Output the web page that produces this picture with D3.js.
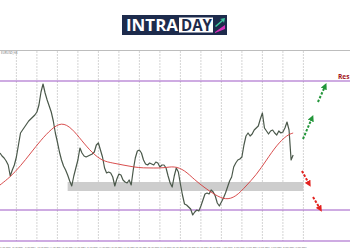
<!DOCTYPE html>
<html>
<head>
<meta charset="utf-8">
<script src="https://cdnjs.cloudflare.com/ajax/libs/d3/7.8.5/d3.min.js"></script>
<style>
  body { margin: 0; background: #fff; }
  svg { display: block; font-family: "Open Sans", "DejaVu Sans", sans-serif; }
</style>
</head>
<body>
<div id="chart"></div>
<script>
// H4 closes, one per bar
const closes = [
  1.0976, 1.0970, 1.0966, 1.0960, 1.0952, 1.0930, 1.0942, 1.0952, 1.0968, 1.0992,
  1.1016, 1.1022, 1.1028, 1.1034, 1.1040, 1.1044, 1.1048, 1.1052, 1.1058, 1.1072,
  1.1098, 1.1114, 1.1096, 1.1082, 1.1070, 1.1058, 1.1040, 1.1016, 1.0998, 1.0978,
  1.0962, 1.0950, 1.0942, 1.0932, 1.0920, 1.0910, 1.0930, 1.0946, 1.0962, 1.0986,
  1.0976, 1.0970, 1.0968, 1.0970, 1.0972, 1.0974, 1.0978, 1.0992, 1.0996, 1.0982,
  1.0968, 1.0946, 1.0936, 1.0938, 1.0936, 1.0928, 1.0910, 1.0924, 1.0934, 1.0932,
  1.0922, 1.0918, 1.0916, 1.0922, 1.0912, 1.0942, 1.0966, 1.0980, 1.0982, 1.0976,
  1.0962, 1.0954, 1.0952, 1.0956, 1.0954, 1.0952, 1.0958, 1.0956, 1.0948, 1.0952,
  1.0952, 1.0946, 1.0930, 1.0916, 1.0908, 1.0930, 1.0946, 1.0938, 1.0914, 1.0892,
  1.0874, 1.0872, 1.0868, 1.0864, 1.0852, 1.0858, 1.0862, 1.0860, 1.0870, 1.0882,
  1.0894, 1.0896, 1.0894, 1.0902, 1.0898, 1.0890, 1.0876, 1.0870, 1.0878, 1.0886,
  1.0896, 1.0908, 1.0920, 1.0928, 1.0948, 1.0956, 1.0962, 1.0964, 1.0968, 1.0992,
  1.1010, 1.1016, 1.1010, 1.1014, 1.1022, 1.1026, 1.1030, 1.1044, 1.1056, 1.1026,
  1.1020, 1.1014, 1.1020, 1.1022, 1.1016, 1.1012, 1.1020, 1.1016, 1.1018, 1.1026,
  1.1038, 1.1022, 1.0962, 1.0972
];

// moving average, read every 5 bars
const maBars = [0, 5, 10, 15, 20, 25, 30, 35, 40, 45, 50, 55, 60, 65, 70, 75, 80, 85, 90, 95, 100, 105, 110, 115, 120, 125, 130, 135, 140, 143];
const maValues = [
  1.0912, 1.0928, 1.0950, 1.0976, 1.1002, 1.1024, 1.1038, 1.1026, 1.1000, 1.0976,
  1.0960, 1.0956, 1.0952, 1.0948, 1.0946, 1.0946, 1.0946, 1.0950, 1.0942, 1.0922,
  1.0906, 1.0892, 1.0882, 1.0888, 1.0910, 1.0932, 1.0962, 1.0992, 1.1012, 1.1016
];

const symbolLabel = 'EURUSD,H4';
const dayBars = [0, 6, 12, 18, 24, 30, 36, 42, 48, 54, 60, 66, 72, 78, 84, 90, 96, 102, 108, 114, 120, 126, 132, 138, 144];
const dayLabels = [
  '5 Apr 2024', '8 Apr 2024', '9 Apr 2024', '10 Apr 2024', '11 Apr 2024', '12 Apr 2024',
  '15 Apr 2024', '16 Apr 2024', '17 Apr 2024', '18 Apr 2024', '19 Apr 2024', '22 Apr 2024',
  '23 Apr 2024', '24 Apr 2024', '25 Apr 2024', '26 Apr 2024', '29 Apr 2024', '30 Apr 2024',
  '1 May 2024', '2 May 2024', '3 May 2024', '6 May 2024', '7 May 2024', '8 May 2024', '9 May 2024'
];
const gridBars = [8, 18, 28, 38, 48, 58, 68, 78, 88, 98, 108, 118, 128, 138, 148];

// levels
const resistance = 1.1120;
const supports = [1.0862, 1.0800];
const zoneLow = 1.0900, zoneHigh = 1.0918;
const zoneFrom = 33, zoneTo = 148;
const resLabel = 'Res';

// projected scenarios [bar, price] -> [bar, price]
const bullArrows = [
  [[147.8, 1.1004], [152.2, 1.1046]],
  [[155.1, 1.1078], [158.6, 1.1110]]
];
const bearArrows = [
  [[147.3, 1.0940], [150.8, 1.0914]],
  [[152.7, 1.0888], [156.2, 1.0864]]
];

const width = 350, height = 250;
const svg = d3.select('#chart').append('svg')
  .attr('width', width).attr('height', height);

const x = d3.scaleLinear().domain([0, 150]).range([0, 307.5]);
const y = d3.scaleLinear().domain([1.0800, 1.1182]).range([241, 50]);

// logo
const logo = svg.append('g');
logo.append('rect').attr('x', 122).attr('y', 15).attr('width', 105).attr('height', 20).attr('fill', '#1d2b4c');
logo.append('text').attr('x', 126).attr('y', 31).attr('fill', '#fff')
  .style('font-size', '16px').style('font-weight', 700)
  .attr('textLength', 52).attr('lengthAdjust', 'spacingAndGlyphs').text('INTRA');
logo.append('rect').attr('x', 179).attr('y', 17.5).attr('width', 34).attr('height', 15).attr('fill', '#fff');
logo.append('text').attr('x', 181).attr('y', 31).attr('fill', '#1d2b4c')
  .style('font-size', '16px').style('font-weight', 700)
  .attr('textLength', 31).attr('lengthAdjust', 'spacingAndGlyphs').text('DAY');
logo.append('path').attr('d', 'M215,26 L222,20 L220,19 L225,18 L224,23 L223,21 L216,27 Z').attr('fill', '#3fc9a0');
logo.append('path').attr('d', 'M215,32 L225,25 L225,29 L215,33 Z').attr('fill', '#d62fb8');

// frame top
svg.append('line').attr('x1', 0).attr('x2', width).attr('y1', 50.5).attr('y2', 50.5)
  .attr('stroke', '#bdbdbd').attr('stroke-width', 1);

// vertical grid
svg.append('g').selectAll('line').data(gridBars).enter().append('line')
  .attr('x1', d => x(d)).attr('x2', d => x(d))
  .attr('y1', 51).attr('y2', 241)
  .attr('stroke', '#c9c9c9').attr('stroke-width', 0.8).attr('stroke-dasharray', '2,1');

svg.append('text').attr('x', 1).attr('y', 54).attr('fill', '#666')
  .style('font-size', '3px').text(symbolLabel);

// demand zone
svg.append('rect')
  .attr('x', x(zoneFrom)).attr('width', x(zoneTo) - x(zoneFrom))
  .attr('y', y(zoneHigh)).attr('height', y(zoneLow) - y(zoneHigh))
  .attr('fill', '#cdcdcd');

// horizontal levels
svg.append('g').selectAll('line').data([resistance].concat(supports)).enter().append('line')
  .attr('x1', 0).attr('x2', width)
  .attr('y1', d => y(d)).attr('y2', d => y(d))
  .attr('stroke', '#9d58c5').attr('stroke-width', 1.2);

svg.append('text').attr('x', 338).attr('y', y(resistance) - 2.5)
  .attr('fill', '#a3141c').style('font-size', '7.5px').style('font-weight', 700)
  .attr('textLength', 11.5).attr('lengthAdjust', 'spacingAndGlyphs')
  .text(resLabel);

// price
svg.append('path').datum(closes)
  .attr('fill', 'none').attr('stroke', '#4a584a').attr('stroke-width', 1.2)
  .attr('stroke-linejoin', 'round')
  .attr('d', d3.line().x((d, i) => x(i)).y(d => y(d)));

// moving average
svg.append('path').datum(maBars.map((b, i) => [b, maValues[i]]))
  .attr('fill', 'none').attr('stroke', '#d43a3a').attr('stroke-width', 0.9)
  .attr('d', d3.line().curve(d3.curveBasis).x(d => x(d[0])).y(d => y(d[1])));

// x labels
svg.append('g').selectAll('text').data(dayBars).enter().append('text')
  .attr('x', d => x(d) + 0.3).attr('y', 247.5)
  .attr('fill', '#555').style('font-size', '2.1px')
  .text((d, i) => dayLabels[i]);

// arrows
const defs = svg.append('defs');
[['bull', '#23963a'], ['bear', '#e3221f']].forEach(([id, c]) => {
  defs.append('marker').attr('id', id).attr('viewBox', '0 0 10 10')
    .attr('refX', 5).attr('refY', 5).attr('markerWidth', 3.2).attr('markerHeight', 3.2)
    .attr('orient', 'auto')
    .append('path').attr('d', 'M0,0 L10,5 L0,10 Z').attr('fill', c);
});
function drawArrows(data, id, color) {
  svg.append('g').selectAll('line').data(data).enter().append('line')
    .attr('x1', d => x(d[0][0])).attr('y1', d => y(d[0][1]))
    .attr('x2', d => x(d[1][0])).attr('y2', d => y(d[1][1]))
    .attr('stroke', color).attr('stroke-width', 2)
    .attr('stroke-dasharray', '2.5,1.6')
    .attr('marker-end', `url(#${id})`);
}
drawArrows(bullArrows, 'bull', '#23963a');
drawArrows(bearArrows, 'bear', '#e3221f');
</script>
</body>
</html>
